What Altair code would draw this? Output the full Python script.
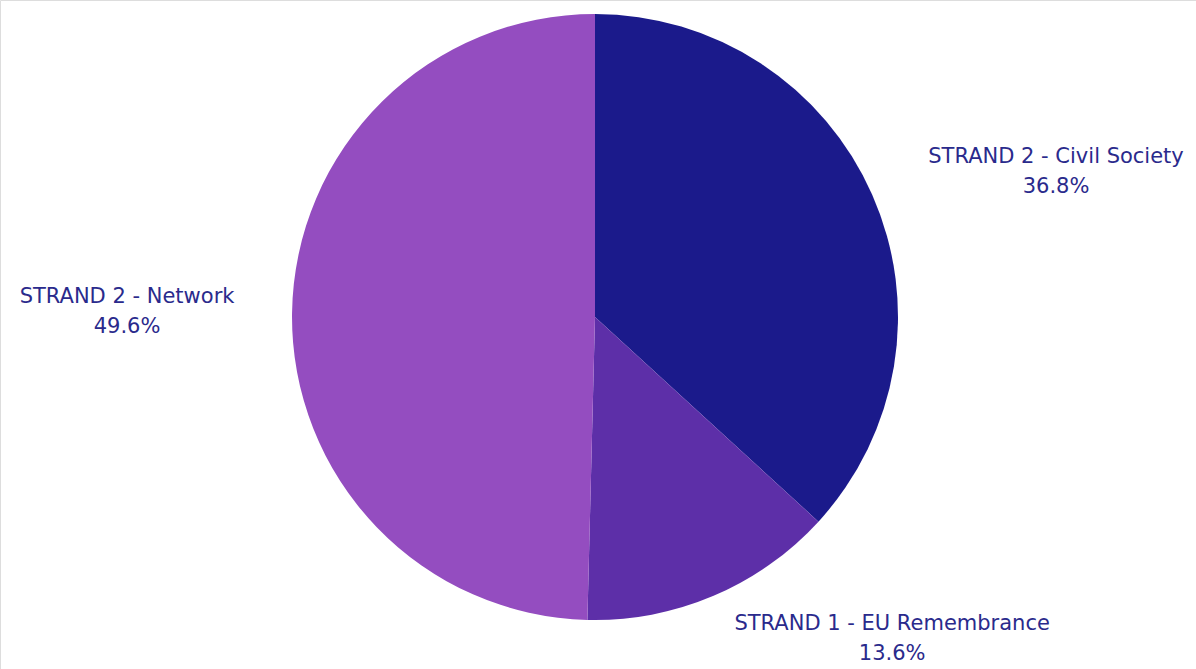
import altair as alt
import pandas as pd

# ---- data ----
categories = ["STRAND 2 - Civil Society", "STRAND 1 - EU Remembrance", "STRAND 2 - Network"]
shares = [36.8, 13.6, 49.6]
pct_labels = ["36.8%", "13.6%", "49.6%"]
colors = ["#1b1a8b", "#5d2fa8", "#944dc0"]

df = pd.DataFrame({
    "category": categories,
    "share": shares,
    "pct": pct_labels,
    "idx": list(range(len(categories))),
})

# ---- layout / style ----
CX, CY, R = 595, 317, 303
LABEL_R = 330
label_offsets = {
    "STRAND 2 - Civil Society": (159, -27),
    "STRAND 1 - EU Remembrance": (168, 3),
    "STRAND 2 - Network": (-138, -16),
}
FONT = "DejaVu Sans"
TEXT_COLOR = "#2a2a8c"

base = alt.Chart(df)

pie = base.mark_arc(outerRadius=R, stroke=None).encode(
    theta=alt.Theta("share:Q", stack=True),
    color=alt.Color("category:N", scale=alt.Scale(domain=categories, range=colors), legend=None),
    order=alt.Order("idx:Q"),
    x=alt.value(CX),
    y=alt.value(CY),
)

label_base = base.transform_joinaggregate(
    total="sum(share)"
).transform_window(
    cum="sum(share)", sort=[alt.SortField("idx")], frame=[None, 0]
).transform_calculate(
    mid="(datum.cum - datum.share / 2) / datum.total * 2 * PI",
    label="[datum.category, datum.pct]",
)

layers = [pie]
for cat in categories:
    dx, dy = label_offsets[cat]
    layers.append(
        label_base.transform_filter(alt.datum.category == cat).mark_text(
            radius=LABEL_R, dx=dx, dy=dy, font=FONT, fontSize=21,
            color=TEXT_COLOR, align="center", baseline="middle", lineHeight=30,
        ).encode(
            theta=alt.Theta("mid:Q", scale=None),
            text=alt.Text("label:N"),
            x=alt.value(CX),
            y=alt.value(CY),
        )
    )

chart = alt.layer(*layers).properties(
    width=1196, height=669, padding=0,
    autosize=alt.AutoSizeParams(type="none"),
).configure_view(stroke=None).configure(background="white")

chart.save("out.html", embed_options={"renderer": "svg", "actions": False})
